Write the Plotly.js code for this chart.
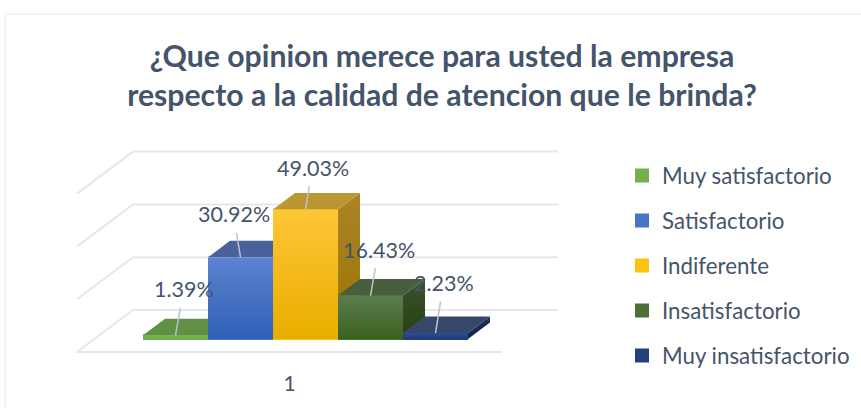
<!DOCTYPE html>
<html>
<head>
<meta charset="utf-8">
<script src="https://cdn.plot.ly/plotly-3.0.1.min.js"></script>
<style>html,body{margin:0;padding:0;background:#fff}#chart{width:861px;height:408px}</style>
</head>
<body>
<div id="chart"></div>
<script>
// Data
const categoryLabel = ['1'];
const seriesNames = ['Muy satisfactorio', 'Satisfactorio', 'Indiferente', 'Insatisfactorio', 'Muy insatisfactorio'];
const seriesValues = [1.39, 30.92, 49.03, 16.43, 2.23];
const gridLevels = [0, 20, 40, 60];

// Styles for each series
const frontTop = ['#7ab752', '#5f82d0', '#ffc637', '#5c7c4e', '#2c4f94'];
const frontBottom = ['#6fae47', '#2e60b6', '#e8ae00', '#3b6120', '#1f3a78'];
const legendColor = ['#74b04c', '#4a74c6', '#ffc20e', '#4e7038', '#24417f'];
const topFace = ['#618f45', '#4a619b', '#bd9634', '#475f3c', '#37476b'];
const sideTop = ['#4f7a34', '#2f4a86', '#ac8429', '#3b5030', '#1d2f5c'];
const sideBottom = ['#4a7330', '#264478', '#997400', '#264010', '#16244c'];
const textColor = '#44546a';
const gridColor = '#e3e7ee';
const leaderColor = '#b8c2d1';
const labelOffsets = [[8, -46], [-7, -43], [7, -42], [8, -46], [8, -50]];

// Oblique projection in data units: one x unit is a bar width
const depthX = 56 / 65, depthY = 42 / 2.64;
const barFrontDepth = 13 / 42, barBackDepth = 29.5 / 42;
const firstBarCenter = 1.249, floorWidth = 6.538;
const px = (x, v, d) => x + d * depthX;
const py = (x, v, d) => v + d * depthY;

function poly(pts) {
  const xs = pts.map(p => px(p[0], p[1], p[2]));
  const ys = pts.map(p => py(p[0], p[1], p[2]));
  xs.push(xs[0]); ys.push(ys[0]);
  return {x: xs, y: ys};
}
function grad(bottom, top) {
  return {type: 'vertical', colorscale: [[0, bottom], [1, top]]};
}

const traces = [];

// Legend-bearing bars (front faces)
seriesValues.forEach((v, i) => {
  traces.push({
    type: 'bar', name: seriesNames[i], legendgroup: seriesNames[i],
    x: [firstBarCenter + i + barFrontDepth * depthX],
    y: [v], base: [barFrontDepth * depthY], width: [63 / 65],
    marker: {color: legendColor[i], line: {color: legendColor[i], width: 2}},
    hoverinfo: 'skip'
  });
});

// Walls and floor
gridLevels.forEach(level => {
  const pts = [[0, level, 0], [0, level, 1], [floorWidth, level, 1]];
  if (level === gridLevels[0]) pts.unshift([floorWidth, level, 0]);
  traces.push({
    type: 'scatter', mode: 'lines', showlegend: false, hoverinfo: 'skip',
    x: pts.map(p => px(p[0], p[1], p[2])), y: pts.map(p => py(p[0], p[1], p[2])),
    line: {color: gridColor, width: 2}
  });
});

// Box faces with gradients
seriesValues.forEach((v, i) => {
  const l = firstBarCenter + i - 0.5, r = l + 1;
  const a = barFrontDepth, b = barBackDepth;
  const base = {type: 'scatter', mode: 'lines', line: {width: 0}, fill: 'toself', showlegend: false, hoverinfo: 'skip'};
  traces.push(Object.assign({}, base, poly([[r, 0, a], [r, 0, b], [r, v, b], [r, v, a]]), {fillgradient: grad(sideBottom[i], sideTop[i])}));
  traces.push(Object.assign({}, base, poly([[l, v, a], [l, v, b], [r, v, b], [r, v, a]]), {fillcolor: topFace[i]}));
  traces.push(Object.assign({}, base, poly([[l, 0, a], [r, 0, a], [r, v, a], [l, v, a]]), {fillgradient: grad(frontBottom[i], frontTop[i])}));
});

// Page geometry
const W = 861, H = 408;
const m = {l: 60, r: 261, t: 130, b: 40};
const plotW = W - m.l - m.r, plotH = H - m.t - m.b;
const x0px = 77, y0px = 352, xScale = 65, yScale = 2.64;
const paperX = p => (p - m.l) / plotW;
const paperY = p => (H - m.b - p) / plotH;

const annotations = seriesValues.map((v, i) => ({
  x: firstBarCenter + i + barFrontDepth * depthX,
  y: v + barFrontDepth * depthY,
  xref: 'x', yref: 'y', axref: 'pixel', ayref: 'pixel',
  ax: labelOffsets[i][0], ay: labelOffsets[i][1],
  text: v.toFixed(2) + '%', showarrow: true, arrowhead: 0, arrowwidth: 1.5,
  arrowcolor: leaderColor, startstandoff: 4,
  font: {family: 'Lato', size: 21.5, color: textColor}
}));

const layout = {
  width: W, height: H,
  margin: Object.assign({pad: 0, autoexpand: false}, m),
  paper_bgcolor: '#fff', plot_bgcolor: 'rgba(0,0,0,0)',
  showlegend: true, barmode: 'overlay',
  title: {
    text: '¿Que opinion merece para usted la empresa<br>respecto a la calidad de atencion que le brinda?',
    font: {family: 'Lato', size: 30.2, weight: 700, color: textColor},
    x: 442 / W, xanchor: 'center', y: 1 - 67 / H, yanchor: 'middle'
  },
  xaxis: {
    range: [(m.l - x0px) / xScale, (W - m.r - x0px) / xScale],
    tickmode: 'array', tickvals: [floorWidth / 2], ticktext: categoryLabel,
    showgrid: false, zeroline: false, showline: false, ticks: '', fixedrange: true,
    ticklabelstandoff: 1,
    tickfont: {family: 'Lato', size: 21, color: textColor}
  },
  yaxis: {
    range: [(y0px - (H - m.b)) / yScale, (y0px - m.t) / yScale],
    visible: false, fixedrange: true
  },
  legend: {
    x: paperX(622), xanchor: 'left', y: paperY(154.5), yanchor: 'top',
    traceorder: 'grouped', tracegroupgap: 13, itemclick: false, itemdoubleclick: false,
    font: {family: 'Lato', size: 22.3, color: textColor}, bgcolor: 'rgba(0,0,0,0)'
  },
  shapes: [{
    type: 'path', xref: 'paper', yref: 'paper', layer: 'below',
    path: 'M' + paperX(5) + ',' + paperY(408) + ' L' + paperX(5) + ',' + paperY(14) + ' L' + paperX(861) + ',' + paperY(14),
    line: {color: '#e3e9ef', width: 1}
  }],
  annotations: annotations
};

Plotly.newPlot('chart', traces, layout, {displayModeBar: false, staticPlot: true});
</script>
</body>
</html>
